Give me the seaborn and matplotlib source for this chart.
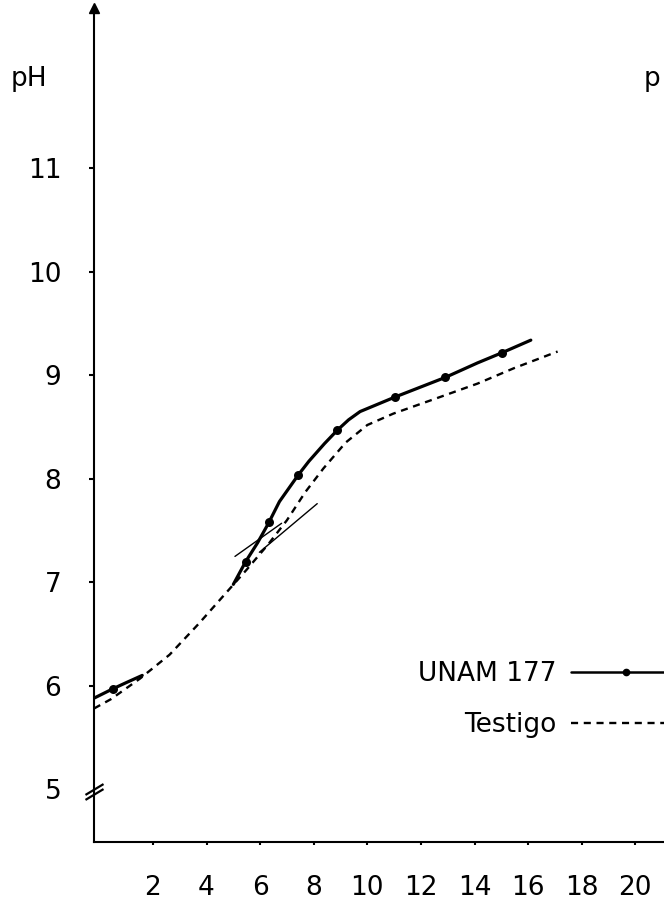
import matplotlib
matplotlib.use("Agg")
import matplotlib.pyplot as plt
import seaborn as sns
from matplotlib.lines import Line2D

# ---------------- data ----------------
x_ticks = [2, 4, 6, 8, 10, 12, 14, 16, 18, 20]
x_tick_labels = ["2", "4", "6", "8", "10", "12", "14", "16", "18", "20"]
y_ticks = [5, 6, 7, 8, 9, 10, 11]
y_tick_labels = ["5", "6", "7", "8", "9", "10", "11"]

# UNAM 177 (solid line, two drawn segments)
unam_a_x = [-0.2, 0.5, 1.0, 1.6]
unam_a_y = [5.88, 5.97, 6.03, 6.10]
unam_b_x = [5.0, 5.46, 5.9, 6.31, 6.72, 7.43, 7.82, 8.4, 8.88, 9.3, 9.73, 11.03, 12.91, 14.11, 15.04, 16.1]
unam_b_y = [6.98, 7.20, 7.38, 7.57, 7.78, 8.04, 8.17, 8.34, 8.47, 8.57, 8.65, 8.79, 8.98, 9.12, 9.22, 9.34]
# measured points of UNAM 177 (dots)
unam_pts_x = [0.5, 5.47, 6.33, 7.43, 8.88, 11.03, 12.91, 15.04]
unam_pts_y = [5.97, 7.20, 7.58, 8.04, 8.47, 8.79, 8.98, 9.22]

# Testigo (dashed line)
testigo_x = [-0.2, 0.43, 1.52, 2.62, 3.71, 5.01, 5.49, 6.31, 7.0, 7.68, 8.36, 9.19, 10.0, 10.97, 12.6, 14.11, 15.48, 17.1]
testigo_y = [5.78, 5.87, 6.07, 6.30, 6.60, 6.98, 7.12, 7.37, 7.60, 7.87, 8.10, 8.35, 8.52, 8.63, 8.78, 8.92, 9.07, 9.23]

# tangent lines
tan_a_x = [5.06, 6.80]
tan_a_y = [7.25, 7.57]
tan_b_x = [5.97, 8.13]
tan_b_y = [7.29, 7.76]

series_labels = ["UNAM 177", "Testigo"]

# ---------------- style ----------------
sns.set_theme(style="ticks", rc={
    "text.color": "black", "axes.labelcolor": "black",
    "xtick.color": "black", "ytick.color": "black",
    "axes.edgecolor": "black",
})
plt.rcParams['font.family'] = ['DejaVu Sans']
FS = 19

fig = plt.figure(figsize=(6.64, 9.05), dpi=100)
fig.patch.set_facecolor("white")
ax = fig.add_axes([94 / 664, 63 / 905, 1 - 94 / 664, 834 / 905])
ax.set_facecolor("white")

XMIN, XMAX = -0.2, 21.07
YMIN, YMAX = 4.49, 12.55

# curves
sns.lineplot(x=testigo_x, y=testigo_y, ax=ax, color="black", lw=1.7,
             linestyle=(0, (3, 2.4)), sort=False, legend=False)
sns.lineplot(x=unam_a_x, y=unam_a_y, ax=ax, color="black", lw=2.3,
             sort=False, legend=False)
sns.lineplot(x=unam_b_x, y=unam_b_y, ax=ax, color="black", lw=2.3,
             sort=False, legend=False)
sns.scatterplot(x=unam_pts_x, y=unam_pts_y, ax=ax, color="black", s=42,
                edgecolor="black", linewidth=0, legend=False, zorder=5)
sns.lineplot(x=tan_a_x, y=tan_a_y, ax=ax, color="black", lw=1.0, legend=False)
sns.lineplot(x=tan_b_x, y=tan_b_y, ax=ax, color="black", lw=1.0, legend=False)

ax.set_xlim(XMIN, XMAX)
ax.set_ylim(YMIN, YMAX)

# axes / spines
for s in ["top", "right"]:
    ax.spines[s].set_visible(False)
for s in ["left", "bottom"]:
    ax.spines[s].set_linewidth(1.5)
    ax.spines[s].set_color("black")

ax.set_xticks(x_ticks)
ax.set_xticklabels(x_tick_labels)
ax.set_yticks(y_ticks)
ax.set_yticklabels(y_tick_labels)
ax.tick_params(axis="x", direction="out", length=2.5, width=1.5, pad=21,
               labelsize=FS, colors="black")
ax.tick_params(axis="y", direction="out", length=3.5, width=1.5, pad=20,
               labelsize=FS, colors="black")
ax.yaxis.get_major_ticks()[0].tick1line.set_visible(False)
ax.set_xlabel("")
ax.set_ylabel("pH", rotation=0, fontsize=FS, ha="center", va="center",
              color="black")
ax.yaxis.set_label_coords(-0.114, 0.915)

# axis break marks at pH 5 and arrow on top of the y axis
brk = [(-1, -0.6), (1, 0.6)]
ax.plot([XMIN, XMIN], [5.0, 4.955], linestyle="none", marker=brk, ms=13,
        mew=1.6, color="black", clip_on=False)
ax.plot([XMIN], [YMAX], marker="^", ms=7, color="black", clip_on=False)

# legend
handles = [
    Line2D([], [], color="black", lw=1.8, marker="o", ms=4.5),
    Line2D([], [], color="black", lw=1.7, linestyle=(0, (3, 2.4))),
]
leg = ax.legend(handles, series_labels, markerfirst=False, frameon=False,
                loc="upper left", bbox_to_anchor=(418 / 664, 1 - 661 / 905),
                bbox_transform=fig.transFigure, fontsize=FS, handlelength=4.2,
                handletextpad=0.55, labelspacing=0.95, borderpad=0,
                borderaxespad=0, numpoints=1)
for t in leg.get_texts():
    t.set_color("black")

# visible part of the neighbouring panel's axis label
fig.text(644 / 664, 1 - 79 / 905, "p", fontsize=FS, ha="left", va="center",
         color="black")

fig.savefig("out.png", dpi=100)
